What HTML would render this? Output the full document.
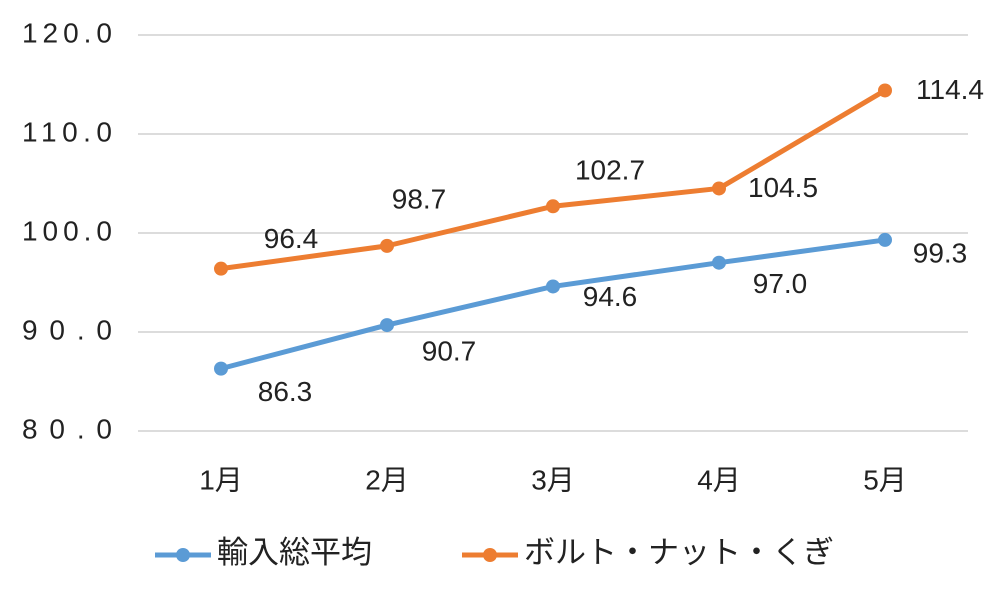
<!DOCTYPE html>
<html><head><meta charset="utf-8"><style>
body{margin:0;background:#fff;}
svg text{font-family:"Liberation Sans","Noto Sans CJK JP",sans-serif;fill:#222;}
</style></head><body>
<svg id="chart" width="1000" height="605"></svg>
<script>
const categories=["1月","2月","3月","4月","5月"];
const seriesNames=["輸入総平均","ボルト・ナット・くぎ"];
const importAvg=[86.3,90.7,94.6,97.0,99.3];
const bolts=[96.4,98.7,102.7,104.5,114.4];
const yTicks=[80,90,100,110,120];
const colors=["#5B9BD5","#ED7D31"];
const labelOffsets=[[[64,25],[62,28],[57,12],[61,23],[55,15]],[[70,-28],[32,-45],[57,-34],[64,1],[65,1]]];
const NS="http://www.w3.org/2000/svg";
const svg=document.getElementById('chart');
function X(i){return 221+i*166;}
function Y(v){return 431-(v-80)*9.9;}
function mk(t,a,p){const e=document.createElementNS(NS,t);for(const k in a)e.setAttribute(k,a[k]);(p||svg).appendChild(e);return e;}
yTicks.forEach(v=>{
 const l=mk('line',{x1:138,x2:968,y1:Y(v),y2:Y(v),stroke:'#d0d0d0','stroke-width':1.5});
 
 
 const t=mk('text',{x:112,y:Y(v),'text-anchor':'end','dominant-baseline':'middle','font-size':28,'textLength':90});
 t.textContent=v.toFixed(1);
 
 
});
categories.forEach((c,i)=>{
 const t=mk('text',{x:X(i),y:482,'text-anchor':'middle','dominant-baseline':'middle','font-size':28});
 t.textContent=c;
 
 
});
[importAvg,bolts].forEach((s,si)=>{
 const g=mk('g',{});
 
 
 const p=mk('polyline',{points:s.map((v,i)=>X(i)+','+Y(v)).join(' '),fill:'none',stroke:colors[si],'stroke-width':5,'stroke-linejoin':'round'},g);
 
 
 s.forEach((v,i)=>{
  const c=mk('circle',{cx:X(i),cy:Y(v),r:7,fill:colors[si]},g);
  
  
  const o=labelOffsets[si][i];
  const t=mk('text',{x:X(i)+o[0],y:Y(v)+o[1],'text-anchor':'middle','dominant-baseline':'middle','font-size':28},g);
  t.textContent=v.toFixed(1);
  
  
 });
});
const lx=[155,462];
seriesNames.forEach((n,si)=>{
 const g=mk('g',{});
 
 
 mk('line',{x1:lx[si],x2:lx[si]+56,y1:555,y2:555,stroke:colors[si],'stroke-width':5},g);
 mk('circle',{cx:lx[si]+28,cy:555,r:7,fill:colors[si]},g);
 const t=mk('text',{x:lx[si]+62,y:555,'dominant-baseline':'middle','font-size':31},g);
 t.textContent=n;
});
</script>
</body></html>
